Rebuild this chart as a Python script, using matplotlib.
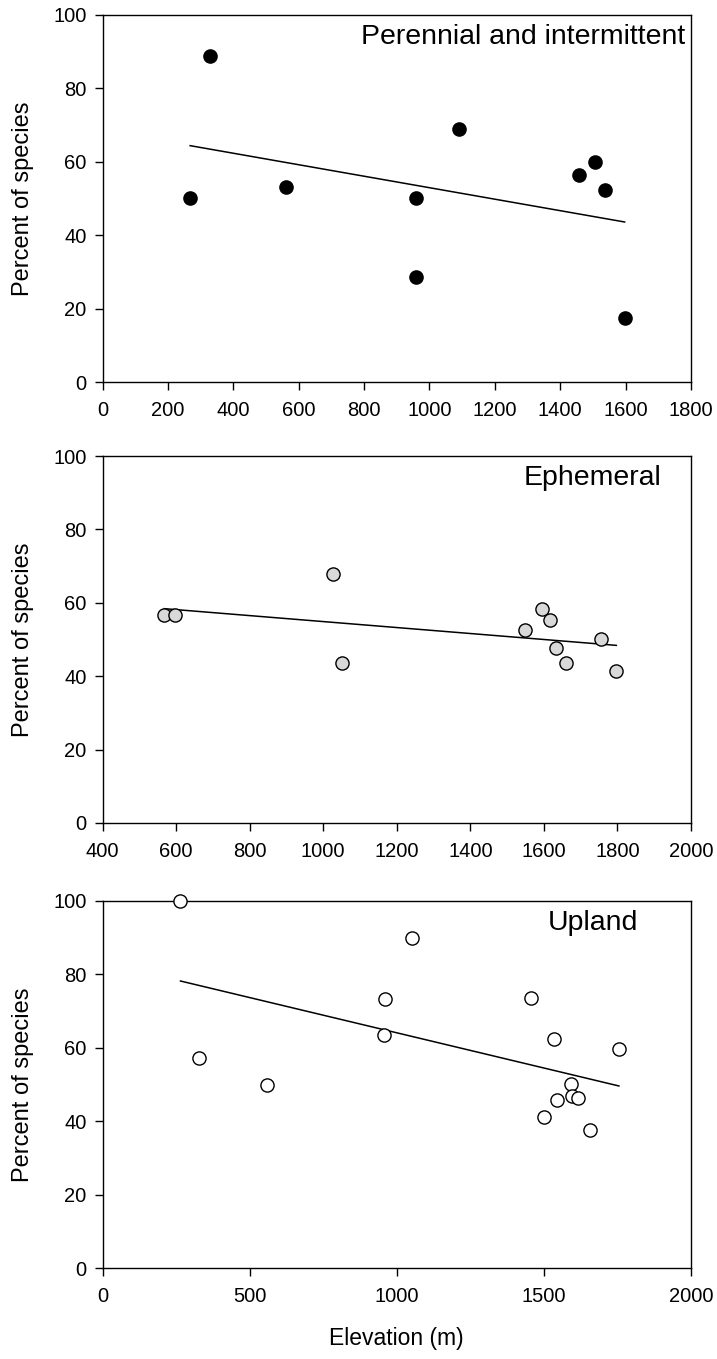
import matplotlib
matplotlib.use("Agg")
import matplotlib.pyplot as plt

plt.rcParams['font.family'] = ['Liberation Sans', 'DejaVu Sans']

# Panel 1: Perennial and intermittent
per_elev = [268, 330, 560, 960, 959, 1091, 1456, 1506, 1537, 1597]
per_pct = [50.1, 88.8, 53.0, 50.1, 28.7, 68.9, 56.3, 60.0, 52.2, 17.5]
per_fit_x = [268, 1597]
per_fit_y = [64.4, 43.6]

# Panel 2: Ephemeral
eph_elev = [568, 597, 1028, 1051, 1548, 1595, 1618, 1633, 1659, 1755, 1797]
eph_pct = [56.6, 56.6, 67.9, 43.5, 52.7, 58.4, 55.2, 47.7, 43.5, 50.1, 41.3]
eph_fit_x = [568, 1797]
eph_fit_y = [58.4, 48.4]

# Panel 3: Upland
upl_elev = [265, 329, 559, 960, 957, 1051, 1455, 1536, 1755, 1592, 1596, 1616, 1545, 1502, 1658]
upl_pct = [100.0, 57.1, 50.0, 73.3, 63.6, 90.0, 73.6, 62.5, 59.6, 50.1, 46.9, 46.2, 45.7, 41.2, 37.5]
upl_fit_x = [265, 1755]
upl_fit_y = [78.2, 49.6]

y_ticks = [0, 20, 40, 60, 80, 100]
x_ticks1 = [0, 200, 400, 600, 800, 1000, 1200, 1400, 1600, 1800]
x_ticks2 = [400, 600, 800, 1000, 1200, 1400, 1600, 1800, 2000]
x_ticks3 = [0, 500, 1000, 1500, 2000]

fig = plt.figure(figsize=(7.17, 13.59), dpi=100)

left = 102.5 / 717
width = 588.5 / 717
height = 367 / 1359
bottoms = [1 - 382 / 1359, 1 - 823 / 1359, 1 - 1268 / 1359]

panels = [
    dict(x=per_elev, y=per_pct, fx=per_fit_x, fy=per_fit_y, fc='black',
         xlim=(0, 1800), xt=x_ticks1, label='Perennial and intermittent', tx=0.990),
    dict(x=eph_elev, y=eph_pct, fx=eph_fit_x, fy=eph_fit_y, fc='#d9d9d9',
         xlim=(400, 2000), xt=x_ticks2, label='Ephemeral', tx=0.9495),
    dict(x=upl_elev, y=upl_pct, fx=upl_fit_x, fy=upl_fit_y, fc='white',
         xlim=(0, 2000), xt=x_ticks3, label='Upland', tx=0.910),
]

for p, b in zip(panels, bottoms):
    ax = fig.add_axes([left, b, width, height])
    ax.plot(p['fx'], p['fy'], color='black', lw=1.1, zorder=2)
    ax.plot(p['x'], p['y'], linestyle='none', marker='o', markersize=9.5,
            markerfacecolor=p['fc'], markeredgecolor='black', markeredgewidth=1.0,
            zorder=3, clip_on=False)
    ax.set_xlim(*p['xlim'])
    ax.set_ylim(0, 100)
    ax.set_xticks(p['xt'])
    ax.set_yticks(y_ticks)
    for s in ax.spines.values():
        s.set_linewidth(1.0)
    ax.tick_params(axis='both', direction='out', length=5.5, width=1.0,
                   labelsize=14.5, top=False, right=False)
    ax.tick_params(axis='x', pad=8)
    ax.tick_params(axis='y', pad=6)
    ax.set_ylabel('Percent of species', fontsize=17, labelpad=14)
    ax.text(p['tx'], 0.94, p['label'], transform=ax.transAxes,
            ha='right', va='center', fontsize=20.5)
    last_ax = ax

last_ax.set_xlabel('Elevation (m)', fontsize=16.5, labelpad=15)

fig.savefig('out.png', dpi=100)
